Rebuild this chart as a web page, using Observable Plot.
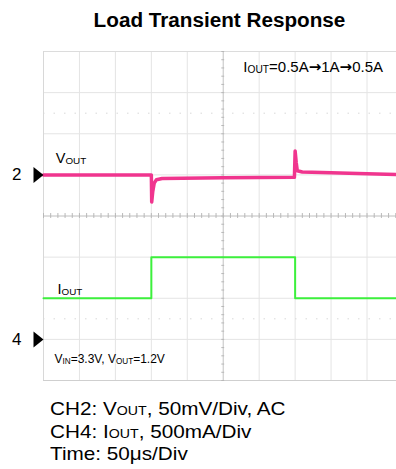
<!DOCTYPE html>
<html><head><meta charset="utf-8">
<script src="https://cdn.jsdelivr.net/npm/d3@7"></script>
<script src="https://cdn.jsdelivr.net/npm/@observablehq/plot@0.6"></script>
<style>
body{margin:0;background:#fff;}
#wrap{position:relative;width:396px;height:469px;overflow:hidden;font-family:"Liberation Sans",Arial,sans-serif;color:#000;}
#title{position:absolute;left:0;top:10px;width:439px;text-align:center;font-weight:bold;font-size:20.7px;line-height:20px;white-space:nowrap;}
#chart{position:absolute;left:0;top:40px;}
#caption{position:absolute;left:50px;top:399px;font-size:19px;line-height:20.5px;white-space:nowrap;transform:scaleX(1.09);transform-origin:0 0;}
#caption .s{font-size:13px;}
</style></head>
<body><div id="wrap">
<div id="title">Load Transient Response</div>
<div id="chart"></div>
<div id="caption">CH2: V<span class="s">OUT</span>, 50mV/Div, AC<br>CH4: I<span class="s">OUT</span>, 500mA/Div<br>Time: 50μs/Div</div>
</div>
<script>
// ---- data ----
const voutTime = [0, 150, 150.5, 152, 154, 157, 165, 250, 349, 350, 351.5, 353, 360, 400, 450, 491];
const voutMv   = [0, 0, -33, -20, -10, -6, -4.5, -3.5, -3, 29, 15, 5, 3.5, 2.5, 1.5, 0.5];
const ioutTime = [0, 150, 150, 350, 350, 491];
const ioutAmp  = [0.5, 0.5, 1.0, 1.0, 0.5, 0.5];
const channelNames   = ["2", "4"];
const channelOffsets = [1, -3];          // divisions
const timePerDiv = 50;                   // µs
const mvPerDiv = 50;                     // mV
const ampPerDiv = 0.5;                   // A
const gridTimes = [0, 50, 100, 150, 200, 250, 300, 350, 400, 450];
const gridDivs = [-4, -3, -2, -1, 0, 1, 2, 3, 4];
const dottedDivs = [2.5, -2.5];
const labelTexts = ["V_{OUT}", "I_{OUT}", "V_{IN}=3.3V, V_{OUT}=1.2V", "I_{OUT}=0.5A→1A→0.5A"];
const labelTimes = [17, 19.5, 15.3, 278];
const labelDivs  = [1.28, -1.886, -3.565, 3.49];

// ---- tables ----
const vout = voutTime.map((t, i) => ({t, y: channelOffsets[0] + voutMv[i] / mvPerDiv}));
const iout = ioutTime.map((t, i) => ({t, y: channelOffsets[1] + ioutAmp[i] / ampPerDiv}));
const channels = channelNames.map((n, i) => ({n, y: channelOffsets[i]}));
const labels = labelTexts.map((s, i) => ({s, t: labelTimes[i], y: labelDivs[i]}));
const minorTimes = d3.range(0, 491, timePerDiv / 5);
const minorDivs = d3.range(-4, 4.01, 0.2);
const centerT = 250;

const tri = {draw(ctx) { ctx.moveTo(-10, -8); ctx.lineTo(0, 0); ctx.lineTo(-10, 8); ctx.closePath(); }};

const svg = Plot.plot({
  width: 396, height: 345,
  marginLeft: 43, marginRight: 0, marginTop: 11, marginBottom: 5,
  x: {domain: [0, 491], axis: null},
  y: {domain: [-4, 4], axis: null},
  style: {fontFamily: "'Liberation Sans', Arial, sans-serif", background: "#fff", overflow: "visible"},
  marks: [
    Plot.ruleX(gridTimes, {stroke: "#e4e4e4", strokeWidth: 1, strokeOpacity: 1}),
    Plot.ruleY(gridDivs, {stroke: "#e4e4e4", strokeWidth: 1, strokeOpacity: 1}),
    Plot.ruleY(dottedDivs, {stroke: "#d8d8d8", strokeDasharray: "1.5,9", strokeOpacity: 1}),
    Plot.ruleY([4], {stroke: "#dcdcdc", strokeOpacity: 1}),
    Plot.ruleY([-4], {stroke: "#cfcfcf", strokeOpacity: 1}),
    Plot.ruleX([0], {stroke: "#d8d8d8", strokeOpacity: 1}),
    Plot.ruleY([0], {stroke: "#cccccc", strokeOpacity: 1}),
    Plot.ruleX([centerT], {stroke: "#cccccc", strokeOpacity: 1}),
    Plot.ruleX(minorTimes, {y1: -0.06, y2: 0.06, stroke: "#b8b8b8", strokeOpacity: 1}),
    Plot.ruleY(minorDivs, {x1: centerT - 2, x2: centerT + 2, stroke: "#b8b8b8", strokeOpacity: 1}),
    Plot.line(iout, {x: "t", y: "y", stroke: "#3cf03c", strokeWidth: 2}),
    Plot.line(vout, {x: "t", y: "y", stroke: "#f0358e", strokeWidth: 3.5}),
    Plot.dot(channels, {x: () => 0, y: "y", symbol: tri, fill: "#000", stroke: null, r: 8}),
    Plot.text(channels, {x: () => 0, y: "y", text: "n", dx: -22, textAnchor: "end", lineAnchor: "middle", fontSize: 17, fill: "#000"}),
    Plot.text(labels.slice(0, 2), {x: "t", y: "y", text: "s", textAnchor: "start", lineAnchor: "bottom", fontSize: 14.5, fill: "#000"}),
    Plot.text(labels.slice(2, 3), {x: "t", y: "y", text: "s", textAnchor: "start", lineAnchor: "bottom", fontSize: 12, fill: "#000"}),
    Plot.text(labels.slice(3, 4), {x: "t", y: "y", text: "s", textAnchor: "start", lineAnchor: "bottom", fontSize: 15, fill: "#000"})
  ]
});

// subscripts "X_{SUB}" and wide arrows -> tspans
const ns = "http://www.w3.org/2000/svg";
svg.querySelectorAll("text").forEach(el => {
  const s = el.textContent;
  if (!s.includes("_{") && !s.includes("→")) return;
  el.textContent = "";
  const parts = s.split(/(_\{[^}]*\}|→)/).filter(p => p.length);
  let shifted = false;
  parts.forEach(p => {
    const ts = document.createElementNS(ns, "tspan");
    if (p.startsWith("_{")) {
      ts.textContent = p.slice(2, -1);
      ts.setAttribute("font-size", "68%");
      ts.setAttribute("dy", "1");
      shifted = true;
    } else {
      ts.textContent = p;
      if (p === "→") { ts.setAttribute("font-family", "'DejaVu Sans', sans-serif"); ts.setAttribute("font-weight", "bold"); }
      if (shifted) { ts.setAttribute("dy", "-1"); shifted = false; }
    }
    el.appendChild(ts);
  });
});

document.getElementById("chart").appendChild(svg);
</script>
</body></html>
